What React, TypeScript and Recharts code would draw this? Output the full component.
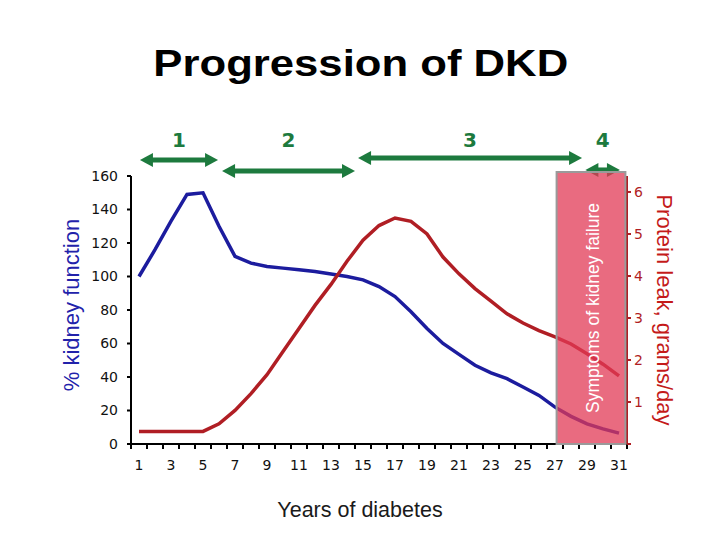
import React from "react";
import {
  ComposedChart,
  Line,
  XAxis,
  YAxis,
  ReferenceArea,
  ReferenceLine,
  ReferenceDot,
} from "recharts";

// years since diagnosis
const YEARS = [
  1, 2, 3, 4, 5, 6, 7, 8, 9, 10, 11, 12, 13, 14, 15, 16, 17, 18, 19, 20, 21,
  22, 23, 24, 25, 26, 27, 28, 29, 30, 31,
];
// % kidney function (left axis)
const KIDNEY_FUNCTION = [
  100, 116, 133, 149, 150, 130, 112, 108, 106, 105, 104, 103, 101.5, 100, 98,
  94, 88, 79, 69, 60, 53.5, 47, 42.5, 39, 34, 29, 22, 16.5, 12, 9, 6.5,
];
// protein leak, grams/day (right axis)
const PROTEIN_LEAK = [
  0.3, 0.3, 0.3, 0.3, 0.3, 0.48, 0.8, 1.2, 1.65, 2.2, 2.75, 3.3, 3.8, 4.35,
  4.85, 5.2, 5.38, 5.3, 5.0, 4.45, 4.05, 3.7, 3.4, 3.1, 2.88, 2.7, 2.55, 2.38,
  2.15, 1.9, 1.62,
];

// stages of DKD, in years
const STAGE_NAMES = ["1", "2", "3", "4"];
const STAGE_START = [1.06, 6.19, 14.69, 28.9];
const STAGE_END = [5.94, 14.5, 28.69, 31.06];

// kidney failure window, in years
const FAILURE_START = 27.1;
const FAILURE_END = 31.4;
const FAILURE_TEXT = "Symptoms of kidney failure";

const X_TICK_MARKS = [
  0.5, 1.5, 2.5, 3.5, 4.5, 5.5, 6.5, 7.5, 8.5, 9.5, 10.5, 11.5, 12.5, 13.5,
  14.5, 15.5, 16.5, 17.5, 18.5, 19.5, 20.5, 21.5, 22.5, 23.5, 24.5, 25.5, 26.5,
  27.5, 28.5, 29.5, 30.5, 31.5,
];
const X_TICK_LABELS = [1, 3, 5, 7, 9, 11, 13, 15, 17, 19, 21, 23, 25, 27, 29, 31];
const LEFT_TICKS = [0, 20, 40, 60, 80, 100, 120, 140, 160];
const RIGHT_TICKS = [0, 1, 2, 3, 4, 5, 6];

// where the arrows sit above the plot (left axis units)
const ARROW_LEVEL = [169.6, 163, 170.7, 163.6];
const STAGE_LABEL_LEVEL = 181.5;
const FAILURE_TOP = 162.4;

const BLUE = "#1c1c9e";
const RED = "#b01e24";
const GREEN = "#1d7a3e";
const TICK_FONT = "DejaVu Sans, Verdana, sans-serif";
const LABEL_FONT = "Liberation Sans, Arial, sans-serif";

const data = YEARS.map((year, i) => ({
  year,
  kidney: KIDNEY_FUNCTION[i],
  protein: PROTEIN_LEAK[i],
}));

const StageArrow = (props: any) => {
  const { x1, y1, x2, y2 } = props;
  const head = 13;
  const half = 7;
  return (
    <g>
      <line
        x1={x1 + head - 1}
        y1={y1}
        x2={x2 - head + 1}
        y2={y2}
        stroke={GREEN}
        strokeWidth={5}
      />
      <polygon
        points={`${x1},${y1} ${x1 + head},${y1 - half} ${x1 + head},${y1 + half}`}
        fill={GREEN}
      />
      <polygon
        points={`${x2},${y2} ${x2 - head},${y2 - half} ${x2 - head},${y2 + half}`}
        fill={GREEN}
      />
    </g>
  );
};

export default function App() {
  return (
    <div
      style={{
        position: "absolute",
        left: 0,
        top: 0,
        width: 720,
        height: 540,
        background: "#fff",
      }}
    >
      <div
        style={{
          position: "absolute",
          left: 0,
          top: 45,
          width: 720,
          textAlign: "center",
          fontFamily: LABEL_FONT,
          fontWeight: 700,
          fontSize: 37,
          lineHeight: 1,
          color: "#000",
        }}
      >
        <span
          style={{
            display: "inline-block",
            transform: "scaleX(1.18)",
            marginLeft: 2,
          }}
        >
          Progression of DKD
        </span>
      </div>
      <ComposedChart
        width={720}
        height={540}
        data={data}
        margin={{ top: 176, right: 33, bottom: 48, left: 71 }}
        style={{ position: "absolute", left: 0, top: 0 }}
      >
        <XAxis
          xAxisId={0}
          type="number"
          dataKey="year"
          domain={[0.5, 31.5]}
          ticks={X_TICK_MARKS}
          tickFormatter={() => ""}
          tickSize={5}
          tickMargin={0}
          height={8}
          axisLine={{ stroke: "#000", strokeWidth: 2 }}
          tickLine={{ stroke: "#000", strokeWidth: 2 }}
        />
        <XAxis
          xAxisId={1}
          type="number"
          dataKey="year"
          domain={[0.5, 31.5]}
          ticks={X_TICK_LABELS}
          axisLine={false}
          tickLine={false}
          height={40}
          tick={{ fill: "#111", fontSize: 14, fontFamily: TICK_FONT }}
          label={{
            value: "Years of diabetes",
            position: "bottom",
            offset: 10,
            dx: -19,
            fill: "#1a1a1a",
            fontSize: 21.5,
            fontFamily: LABEL_FONT,
          }}
        />
        <YAxis
          yAxisId="left"
          domain={[0, 160]}
          ticks={LEFT_TICKS}
          width={60}
          tickSize={4}
          tickMargin={9}
          axisLine={{ stroke: "#000", strokeWidth: 2 }}
          tickLine={{ stroke: "#000", strokeWidth: 2 }}
          tick={{ fill: "#111", fontSize: 14, fontFamily: TICK_FONT }}
          label={{
            value: "% kidney function",
            angle: -90,
            position: "insideLeft",
            offset: 0,
            dy: -5,
            fill: "#2222aa",
            fontSize: 22,
            fontFamily: LABEL_FONT,
            style: { textAnchor: "middle" },
          }}
        />
        <YAxis
          yAxisId="right"
          orientation="right"
          domain={[0, 6.38]}
          ticks={RIGHT_TICKS}
          tickFormatter={(v: number) => (v === 0 ? "" : String(v))}
          width={60}
          tickSize={4}
          tickMargin={3}
          axisLine={{ stroke: RED, strokeWidth: 2 }}
          tickLine={{ stroke: RED, strokeWidth: 2 }}
          tick={{ fill: RED, fontSize: 14, fontFamily: TICK_FONT }}
          label={{
            value: "Protein leak, grams/day",
            angle: 90,
            position: "insideLeft",
            offset: 38,
            fill: "#c41a1a",
            fontSize: 22,
            fontFamily: LABEL_FONT,
            style: { textAnchor: "middle" },
          }}
        />
        <Line
          xAxisId={0}
          yAxisId="left"
          type="linear"
          dataKey="kidney"
          stroke={BLUE}
          strokeWidth={3.5}
          dot={false}
          isAnimationActive={false}
        />
        <Line
          xAxisId={0}
          yAxisId="right"
          type="linear"
          dataKey="protein"
          stroke={RED}
          strokeWidth={3.5}
          dot={false}
          isAnimationActive={false}
        />
        {STAGE_NAMES.map((name, i) => (
          <ReferenceLine
            key={"arrow" + name}
            xAxisId={0}
            yAxisId="left"
            ifOverflow="visible"
            segment={[
              { x: STAGE_START[i], y: ARROW_LEVEL[i] },
              { x: STAGE_END[i], y: ARROW_LEVEL[i] },
            ]}
            shape={StageArrow}
          />
        ))}
        {STAGE_NAMES.map((name, i) => (
          <ReferenceDot
            key={"label" + name}
            xAxisId={0}
            yAxisId="left"
            ifOverflow="visible"
            x={(STAGE_START[i] + STAGE_END[i]) / 2}
            y={STAGE_LABEL_LEVEL}
            r={0}
            stroke="none"
            fill="none"
            label={{
              value: name,
              position: "center",
              fill: GREEN,
              fontSize: 20,
              fontWeight: 700,
              fontFamily: TICK_FONT,
            }}
          />
        ))}
        <ReferenceArea
          xAxisId={0}
          yAxisId="left"
          x1={FAILURE_START}
          x2={FAILURE_END}
          y1={0}
          y2={FAILURE_TOP}
          ifOverflow="visible"
          fill="#e23a55"
          fillOpacity={0.75}
          stroke="#9a9a9a"
          strokeWidth={2}
          zIndex={600}
          label={{
            value: FAILURE_TEXT,
            angle: -90,
            position: "center",
            dx: 2,
            fill: "#fff",
            fontSize: 17.5,
            fontFamily: LABEL_FONT,
          }}
        />
      </ComposedChart>
    </div>
  );
}
